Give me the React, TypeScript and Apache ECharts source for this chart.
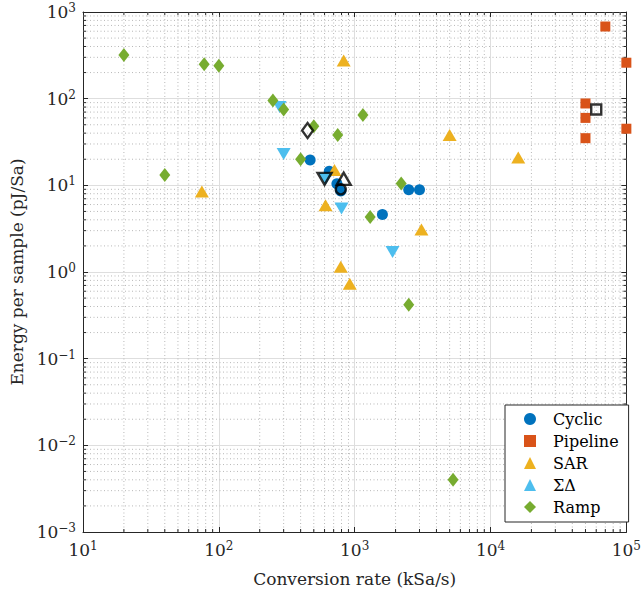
import React, { useEffect, useRef } from "react";
import * as echarts from "echarts";

// [conversion rate (kSa/s), energy per sample (pJ/Sa)]
const cyclic: number[][] = [
  [470, 19.6], [650, 14.5], [740, 10.4], [790, 8.6], [1600, 4.6], [2500, 8.9], [3000, 8.9],
];
const pipeline: number[][] = [
  [70000, 680], [100000, 260], [50000, 88], [50000, 60], [50000, 35], [100000, 45],
];
const sar: number[][] = [
  [830, 275], [75, 8.5], [710, 15], [610, 5.9], [790, 1.15], [920, 0.73], [3100, 3.1], [5000, 38], [16000, 21],
];
const sigmaDelta: number[][] = [
  [280, 80], [300, 23], [610, 11.8], [800, 5.4], [1900, 1.7],
];
const ramp: number[][] = [
  [20, 320], [40, 13.2], [78, 250], [100, 240], [250, 95], [300, 75], [400, 20], [500, 48],
  [750, 38], [1150, 65], [1300, 4.3], [2200, 10.5], [2500, 0.42], [5300, 0.004],
];
// highlighted (hollow black) points
const hlCircle: number[][] = [[790, 9.0]];
const hlSquare: number[][] = [[60000, 75]];
const hlUp: number[][] = [[830, 11.9]];
const hlDown: number[][] = [[600, 11.9]];
const hlDiamond: number[][] = [[450, 43]];

const xMinorDecades = [1, 2, 3, 4];
const yMinorDecades = [-3, -2, -1, 0, 1, 2];
const minorMultipliers = [2, 3, 4, 5, 6, 7, 8, 9];

const FONT = "DejaVu Serif";
const AXIS_COLOR = "#262626";

function supLabel(v: number): string {
  const e = Math.round(Math.log10(v));
  const s = e < 0 ? "\u2212" + Math.abs(e) : String(e);
  return "{b|10}{s|" + s + "}";
}

const richLabel = {
  b: { fontFamily: FONT, fontSize: 17, color: AXIS_COLOR },
  s: { fontFamily: FONT, fontSize: 12, color: AXIS_COLOR, padding: [0, 0, 8, 0] },
};

export default function App() {
  const ref = useRef<HTMLDivElement>(null);
  useEffect(() => {
    document.body.style.margin = "0";
    if (!ref.current) return;
    const chart = echarts.init(ref.current, undefined, { renderer: "svg" });

    const minorData: number[][] = [];
    xMinorDecades.forEach((d) => minorMultipliers.forEach((m) => minorData.push([m * Math.pow(10, d), 1, 0])));
    yMinorDecades.forEach((d) => minorMultipliers.forEach((m) => minorData.push([10, m * Math.pow(10, d), 1])));

    const col = (c: string) => ({ color: c, opacity: 1 });
    const hollow = { color: "rgba(0,0,0,0)", borderColor: "#000", borderWidth: 2.4 };

    const option: any = {
      animation: false,
      backgroundColor: "#fff",
      textStyle: { fontFamily: FONT },
      grid: { left: 83, right: 13, top: 12, bottom: 63, show: false },
      xAxis: [
        {
          type: "log", logBase: 10, min: 10, max: 100000,
          name: "Conversion rate (kSa/s)", nameLocation: "middle", nameGap: 38,
          nameTextStyle: { fontFamily: FONT, fontSize: 17, color: AXIS_COLOR },
          axisLine: { show: true, lineStyle: { color: AXIS_COLOR, width: 1 } },
          axisTick: { show: true, inside: true, length: 5, lineStyle: { color: AXIS_COLOR } },
          axisLabel: { formatter: supLabel, rich: richLabel, margin: 8, fontFamily: FONT },
          splitLine: { show: true, lineStyle: { color: "#dedede", width: 1 } },
          minorTick: { show: false },
        },
        {
          type: "log", logBase: 10, min: 10, max: 100000, position: "top",
          axisLine: { show: true, lineStyle: { color: AXIS_COLOR, width: 1 } },
          axisTick: { show: true, inside: true, length: 5, lineStyle: { color: AXIS_COLOR } },
          axisLabel: { show: false },
          splitLine: { show: false },
        },
      ],
      yAxis: [
        {
          type: "log", logBase: 10, min: 0.001, max: 1000,
          name: "Energy per sample (pJ/Sa)", nameLocation: "middle", nameGap: 45,
          nameTextStyle: { fontFamily: FONT, fontSize: 17, color: AXIS_COLOR },
          axisLine: { show: true, lineStyle: { color: AXIS_COLOR, width: 1 } },
          axisTick: { show: true, inside: true, length: 5, lineStyle: { color: AXIS_COLOR } },
          axisLabel: { formatter: supLabel, rich: richLabel, margin: 7, fontFamily: FONT },
          splitLine: { show: true, lineStyle: { color: "#dedede", width: 1 } },
        },
        {
          type: "log", logBase: 10, min: 0.001, max: 1000, position: "right",
          axisLine: { show: true, lineStyle: { color: AXIS_COLOR, width: 1 } },
          axisTick: { show: true, inside: true, length: 5, lineStyle: { color: AXIS_COLOR } },
          axisLabel: { show: false },
          splitLine: { show: false },
        },
      ],
      legend: {
        data: ["Cyclic", "Pipeline", "SAR", "\u03A3\u0394", "Ramp"],
        orient: "vertical",
        left: 505, top: 405,
        padding: [6, 10, 7, 19],
        itemWidth: 12, itemHeight: 12, itemGap: 6,
        borderColor: AXIS_COLOR, borderWidth: 1, borderRadius: 0,
        backgroundColor: "#fff",
        textStyle: { fontFamily: FONT, fontSize: 16, color: "#000", padding: [0, 0, 0, 12] },
      },
      series: [
        {
          type: "custom", name: "minorGrid", coordinateSystem: "cartesian2d", z: 1, silent: true,
          data: minorData,
          renderItem: (params: any, api: any) => {
            const cs = params.coordSys;
            const flag = api.value(2);
            const pt = api.coord([api.value(0), api.value(1)]);
            const dotted = { stroke: "#b8b8b8", lineWidth: 1, lineDash: [1, 2.5] };
            const tick = { stroke: AXIS_COLOR, lineWidth: 1 };
            if (flag === 0) {
              const x = pt[0];
              return {
                type: "group", children: [
                  { type: "line", shape: { x1: x, y1: cs.y, x2: x, y2: cs.y + cs.height }, style: dotted },
                  { type: "line", shape: { x1: x, y1: cs.y + cs.height, x2: x, y2: cs.y + cs.height - 3 }, style: tick },
                  { type: "line", shape: { x1: x, y1: cs.y, x2: x, y2: cs.y + 3 }, style: tick },
                ],
              };
            }
            const y = pt[1];
            return {
              type: "group", children: [
                { type: "line", shape: { x1: cs.x, y1: y, x2: cs.x + cs.width, y2: y }, style: dotted },
                { type: "line", shape: { x1: cs.x, y1: y, x2: cs.x + 3, y2: y }, style: tick },
                { type: "line", shape: { x1: cs.x + cs.width, y1: y, x2: cs.x + cs.width - 3, y2: y }, style: tick },
              ],
            };
          },
        },
        { type: "scatter", name: "Cyclic", symbol: "circle", symbolSize: 11, itemStyle: col("#0072BD"), data: cyclic, z: 3 },
        { type: "scatter", name: "Pipeline", symbol: "rect", symbolSize: 10, itemStyle: col("#D95319"), data: pipeline, z: 3 },
        { type: "scatter", name: "SAR", symbol: "triangle", symbolSize: [14, 12], itemStyle: col("#EDB120"), data: sar, z: 3 },
        { type: "scatter", name: "\u03A3\u0394", symbol: "triangle", symbolRotate: 180, symbolSize: [14, 12], itemStyle: col("#4DBEEE"), data: sigmaDelta, z: 3 },
        { type: "scatter", name: "Ramp", symbol: "diamond", symbolSize: [11, 14], itemStyle: col("#77AC30"), data: ramp, z: 3 },
        { type: "scatter", name: "hl1", symbol: "circle", symbolSize: 10, itemStyle: hollow, data: hlCircle, z: 4 },
        { type: "scatter", name: "hl2", symbol: "rect", symbolSize: 10, itemStyle: hollow, data: hlSquare, z: 4 },
        { type: "scatter", name: "hl3", symbol: "triangle", symbolSize: [14, 12], itemStyle: hollow, data: hlUp, z: 4 },
        { type: "scatter", name: "hl4", symbol: "triangle", symbolRotate: 180, symbolSize: [14, 12], itemStyle: hollow, data: hlDown, z: 4 },
        { type: "scatter", name: "hl5", symbol: "diamond", symbolSize: [11, 15], itemStyle: hollow, data: hlDiamond, z: 4 },
      ],
    };
    chart.setOption(option);
    return () => chart.dispose();
  }, []);
  return <div ref={ref} style={{ width: 644, height: 595 }} />;
}
